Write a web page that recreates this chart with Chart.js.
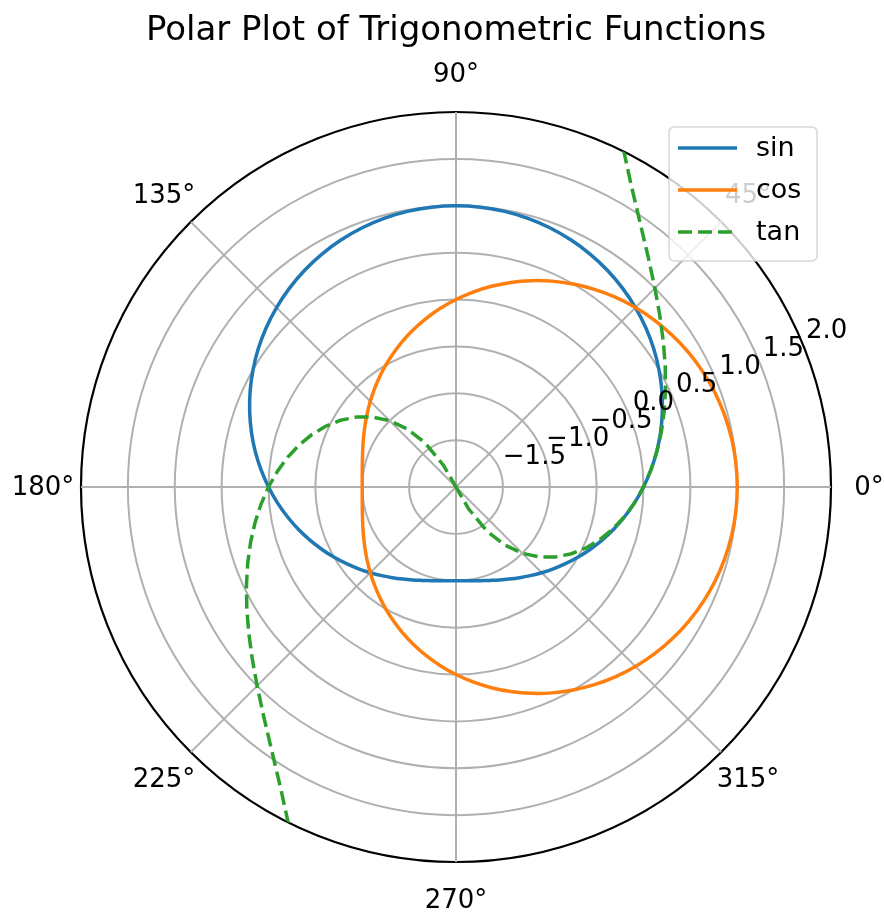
<!DOCTYPE html>
<html>
<head>
<meta charset="utf-8">
<script src="https://cdn.jsdelivr.net/npm/chart.js@4.4.1/dist/chart.umd.min.js"></script>
<style>
  html, body { margin: 0; padding: 0; background: #fff; }
</style>
</head>
<body>
<canvas id="polar" width="884" height="913"></canvas>
<script>
// angle of each sample in degrees (counter-clockwise from east, like matplotlib)
const thetaDeg = [0, 5, 10, 15, 20, 25, 30, 35, 40, 45, 50, 55, 60, 65, 70, 75, 80, 85,
  90, 95, 100, 105, 110, 115, 120, 125, 130, 135, 140, 145, 150, 155, 160, 165, 170, 175,
  180, 185, 190, 195, 200, 205, 210, 215, 220, 225, 230, 235, 240, 245, 250, 255, 260, 265,
  270, 275, 280, 285, 290, 295, 300, 305, 310, 315, 320, 325, 330, 335, 340, 345, 350, 355];

const sinVals = [0, 0.087, 0.174, 0.259, 0.342, 0.423, 0.5, 0.574, 0.643, 0.707, 0.766, 0.819, 0.866, 0.906, 0.94, 0.966, 0.985, 0.996,
  1, 0.996, 0.985, 0.966, 0.94, 0.906, 0.866, 0.819, 0.766, 0.707, 0.643, 0.574, 0.5, 0.423, 0.342, 0.259, 0.174, 0.087,
  0, -0.087, -0.174, -0.259, -0.342, -0.423, -0.5, -0.574, -0.643, -0.707, -0.766, -0.819, -0.866, -0.906, -0.94, -0.966, -0.985, -0.996,
  -1, -0.996, -0.985, -0.966, -0.94, -0.906, -0.866, -0.819, -0.766, -0.707, -0.643, -0.574, -0.5, -0.423, -0.342, -0.259, -0.174, -0.087];

const cosVals = [1, 0.996, 0.985, 0.966, 0.94, 0.906, 0.866, 0.819, 0.766, 0.707, 0.643, 0.574, 0.5, 0.423, 0.342, 0.259, 0.174, 0.087,
  0, -0.087, -0.174, -0.259, -0.342, -0.423, -0.5, -0.574, -0.643, -0.707, -0.766, -0.819, -0.866, -0.906, -0.94, -0.966, -0.985, -0.996,
  -1, -0.996, -0.985, -0.966, -0.94, -0.906, -0.866, -0.819, -0.766, -0.707, -0.643, -0.574, -0.5, -0.423, -0.342, -0.259, -0.174, -0.087,
  0, 0.087, 0.174, 0.259, 0.342, 0.423, 0.5, 0.574, 0.643, 0.707, 0.766, 0.819, 0.866, 0.906, 0.94, 0.966, 0.985, 0.996];

// null where the curve falls below the inner limit (not drawn)
const tanVals = [0, 0.087, 0.176, 0.268, 0.364, 0.466, 0.577, 0.7, 0.839, 1, 1.192, 1.428, 1.732, 2.145, 2.747, 3.732, 5.671, 11.43,
  null, null, null, null, null, -2, -1.732, -1.428, -1.192, -1, -0.839, -0.7, -0.577, -0.466, -0.364, -0.268, -0.176, -0.087,
  0, 0.087, 0.176, 0.268, 0.364, 0.466, 0.577, 0.7, 0.839, 1, 1.192, 1.428, 1.732, 2.145, 2.747, 3.732, 5.671, 11.43,
  null, null, null, null, null, -2, -1.732, -1.428, -1.192, -1, -0.839, -0.7, -0.577, -0.466, -0.364, -0.268, -0.176, -0.087];

const seriesNames = ['sin', 'cos', 'tan'];
const seriesColors = ['#1f77b4', '#ff7f0e', '#2ca02c'];
const thetaTicks = [0, 45, 90, 135, 180, 225, 270, 315];
const rTicks = [-1.5, -1.0, -0.5, 0.0, 0.5, 1.0, 1.5, 2.0];
const rMin = -2, rMax = 2;

const FONT = '"DejaVu Sans", sans-serif';

// radar goes clockwise from its start angle, matplotlib goes counter-clockwise:
// index i of the radar sits at theta = -5*i degrees
const n = thetaDeg.length;
const toRadar = arr => arr.map((_, i) => arr[(n - i) % n]);
const radarLabels = toRadar(thetaDeg);

// keep lines inside the outer circle
const clipPlugin = {
  id: 'clipCircle',
  beforeDatasetsDraw(chart) {
    const s = chart.scales.r;
    const ctx = chart.ctx;
    ctx.save();
    ctx.beginPath();
    ctx.arc(s.xCenter, s.yCenter, s.drawingArea, 0, Math.PI * 2);
    ctx.clip();
  },
  afterDatasetsDraw(chart) {
    chart.ctx.restore();
  }
};

const labelsPlugin = {
  id: 'polarLabels',
  afterDraw(chart) {
    const s = chart.scales.r;
    const ctx = chart.ctx;
    ctx.save();
    ctx.fillStyle = '#000';

    // title
    ctx.font = '34px ' + FONT;
    ctx.textAlign = 'center';
    ctx.textBaseline = 'alphabetic';
    ctx.fillText('Polar Plot of Trigonometric Functions', s.xCenter, 40);

    // angle labels
    ctx.font = '26px ' + FONT;
    ctx.textBaseline = 'middle';
    thetaTicks.forEach(t => {
      const idx = radarLabels.indexOf(t);
      const p = s.getPointPosition(idx, s.drawingArea + 38);
      ctx.fillText(t + '°', p.x, p.y + 1);
    });

    // radial labels along 22.5 degrees
    ctx.textAlign = 'left';
    ctx.textBaseline = 'alphabetic';
    const a = 22.5 * Math.PI / 180;
    rTicks.forEach(v => {
      const d = s.getDistanceFromCenterForValue(v);
      const txt = v.toFixed(1).replace('-', '\u2212');
      ctx.fillText(txt, s.xCenter + d * Math.cos(a) + 3.5, s.yCenter - d * Math.sin(a) - 5);
    });

    // legend box
    const bx = 669, by = 127, bw = 148, bh = 134, rad = 5;
    ctx.beginPath();
    ctx.roundRect(bx, by, bw, bh, rad);
    ctx.fillStyle = 'rgba(255,255,255,0.8)';
    ctx.fill();
    ctx.lineWidth = 1.5;
    ctx.strokeStyle = 'rgba(204,204,204,0.8)';
    ctx.stroke();

    const rows = [148, 190, 232];
    chart.data.datasets.forEach((ds, i) => {
      const y = rows[i];
      ctx.beginPath();
      ctx.setLineDash(ds.borderDash || []);
      ctx.strokeStyle = ds.borderColor;
      ctx.lineWidth = ds.borderWidth;
      ctx.moveTo(678, y);
      ctx.lineTo(737, y);
      ctx.stroke();
      ctx.setLineDash([]);
      ctx.fillStyle = '#000';
      ctx.font = '27px ' + FONT;
      ctx.textBaseline = 'middle';
      ctx.fillText(ds.label, 756, y + 1);
    });
    ctx.restore();
  }
};

const datasets = [sinVals, cosVals, tanVals].map((vals, i) => ({
  label: seriesNames[i],
  data: toRadar(vals),
  borderColor: seriesColors[i],
  borderWidth: 3.5,
  borderDash: i === 2 ? [14, 6] : [],
  fill: false,
  spanGaps: false,
  pointRadius: 0,
  tension: i === 2 ? 0 : 0.33,
  order: 3 - i
}));

const config = {
  type: 'radar',
  data: { labels: radarLabels, datasets },
  options: {
    responsive: false,
    animation: false,
    devicePixelRatio: 1,
    layout: { padding: { left: 81, top: 112, right: 53, bottom: 51 } },
    plugins: {
      legend: { display: false },
      title: { display: false },
      tooltip: { enabled: false }
    },
    scales: {
      r: {
        min: rMin,
        max: rMax,
        startAngle: 90,
        ticks: { display: false, stepSize: 0.5 },
        pointLabels: { display: false },
        grid: {
          circular: true,
          color: ctx => (ctx.tick && ctx.tick.value === rMax) ? '#000' : '#b0b0b0',
          lineWidth: ctx => (ctx.tick && ctx.tick.value === rMax) ? 2.2 : 2
        },
        angleLines: {
          display: true,
          color: '#b0b0b0',
          lineWidth: ctx => thetaTicks.includes(radarLabels[ctx.index]) ? 2 : 0
        }
      }
    }
  },
  plugins: [clipPlugin, labelsPlugin]
};

const polar = new Chart(document.getElementById('polar'), config);
</script>
</body>
</html>
